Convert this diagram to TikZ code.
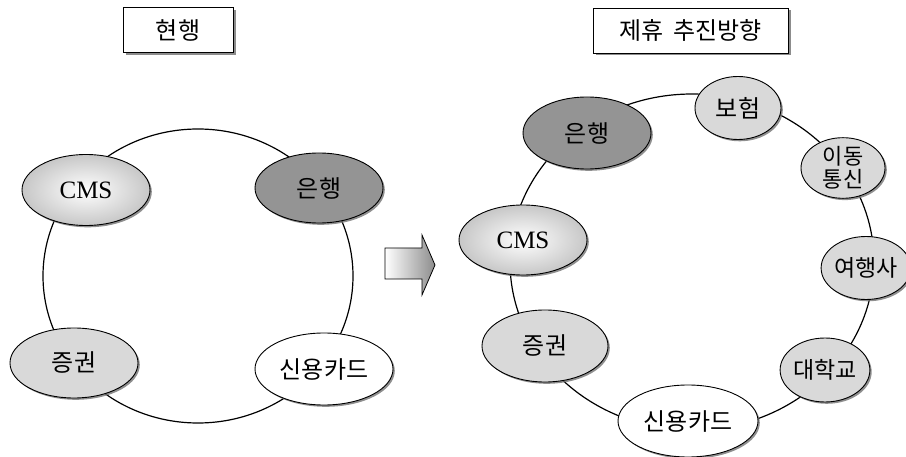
\documentclass[tikz,border=0pt]{standalone}
\usepackage{fontspec}
\setmainfont{Liberation Serif}
\newfontfamily\kr{Noto Sans CJK KR}
\newfontfamily\tnr{Liberation Serif}
\usetikzlibrary{shapes.geometric,shadows}
\tikzset{
  org/.style={ellipse, draw=black, line width=0.9pt, inner sep=0pt,
    font=\kr\fontsize{24}{26}\selectfont,
    drop shadow={shadow xshift=1.8pt, shadow yshift=-1.8pt, fill=black!55, opacity=0.8}},
  dark/.style={org, fill=black!42},
  light/.style={org, fill=black!15},
  plain/.style={org, fill=white},
  cms/.style={org, inner color=white, outer color=black!22, font=\tnr\fontsize{25}{27}\selectfont},
  ring/.style={draw=black, line width=1.2pt},
  titlebox/.style={draw=black, line width=0.9pt, fill=white, inner sep=0pt,
    font=\kr\fontsize{24}{26}\selectfont,
    drop shadow={shadow xshift=2.5pt, shadow yshift=-2.5pt, fill=black!50, opacity=0.9}}
}
\begin{document}
\begin{tikzpicture}[x=1pt,y=-1pt]
\useasboundingbox (0,0) rectangle (906,457);
% titles
\node[titlebox, minimum width=110pt, minimum height=45pt] (t1) at (178,30) {현행};
\node[titlebox, minimum width=195pt, minimum height=45pt] (t2) at (690.5,30.5) {제휴\hspace{10pt}추진방향};
% left ring
\draw[ring] (198,276) ellipse [x radius=155, y radius=147];
\node[cms, minimum width=128pt, minimum height=71pt] (lcms) at (86,190) {CMS};
\node[dark, minimum width=128pt, minimum height=70pt] (lbank) at (319,188) {은행};
\node[light, minimum width=128pt, minimum height=70pt] (lsec) at (74,363) {증권};
\node[plain, minimum width=138pt, minimum height=72pt] (lcard) at (324,369) {신용카드};
% arrow
\path[draw=black, line width=0.8pt, left color=white, right color=black!45]
  (385,248) -- (422,248) -- (422,235) -- (435,265) -- (422,295) -- (422,279) -- (385,279) -- cycle;
% right ring
\draw[ring] (692,262) ellipse [x radius=182, y radius=168];
\node[dark, minimum width=128pt, minimum height=72pt] (rbank) at (587,133) {은행};
\node[light, minimum width=86pt, minimum height=63pt] (rins) at (738,108) {보험};
\node[light, minimum width=84pt, minimum height=57pt, align=center,
      font=\kr\fontsize{22}{23}\selectfont] (rtel) at (843,168) {이동\\통신};
\node[light, minimum width=78pt, minimum height=63pt, font=\kr\fontsize{23}{25}\selectfont] (rtrav) at (866,268) {여행사};
\node[light, minimum width=86pt, minimum height=64pt, font=\kr\fontsize{23}{25}\selectfont] (runiv) at (825,370) {대학교};
\node[plain, minimum width=140pt, minimum height=72pt] (rcard) at (688,421) {신용카드};
\node[light, minimum width=126pt, minimum height=72pt] (rsec) at (545,346) {증권};
\node[cms, minimum width=128pt, minimum height=70pt] (rcms) at (523,240) {CMS};
\end{tikzpicture}
\end{document}
